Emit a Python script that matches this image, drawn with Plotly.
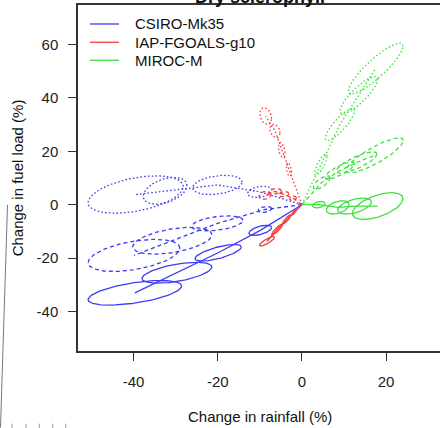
import numpy as np
import plotly.graph_objects as go

# Projected change in rainfall (x, %) vs change in fuel load (y, %)
# Each model has three projection sets (solid, dashed, dotted line styles);
# every set has four uncertainty ellipses: centre, x/y half-extent and x-y correlation.
MODELS = ["CSIRO-Mk35", "IAP-FGOALS-g10", "MIROC-M"]
COLORS = ["#3c3cf4", "#f23c3c", "#3ce23c"]
STYLES = ["solid", "dashed", "dotted"]

CSIRO_CX = [[-9.9, -19.9, -29.7, -39.7], [-8.8, -20.1, -30.8, -39.9], [-10.0, -20.1, -32.5, -39.5]]
CSIRO_CY = [[-9.6, -18.0, -25.5, -33.0], [-1.8, -7.0, -13.5, -19.0], [4.8, 7.4, 5.2, 3.8]]
CSIRO_SX = [[2.7, 5.5, 8.3, 11.1], [1.6, 6.1, 9.4, 10.9], [2.9, 5.9, 5.2, 11.3]]
CSIRO_SY = [[1.9, 3.1, 3.9, 4.6], [1.1, 2.8, 5.0, 6.0], [2.1, 3.6, 5.0, 7.0]]
CSIRO_R = [[0.55, 0.7, 0.55, 0.55], [0.3, 0.4, 0.45, 0.45], [0.3, 0.3, 0.4, 0.43]]

IAP_CX = [[-1.9, -3.6, -5.9, -8.3], [-2.1, -4.3, -6.4, -8.8], [-3.1, -4.8, -6.4, -8.6]]
IAP_CY = [[-2.9, -5.5, -9.3, -13.7], [2.4, 3.9, 5.0, 3.5], [13.2, 20.5, 27.6, 33.2]]
IAP_SX = [[0.6, 1.0, 1.3, 1.8], [0.8, 1.2, 1.5, 1.4], [0.6, 0.8, 1.2, 1.4]]
IAP_SY = [[1.0, 1.7, 2.0, 1.8], [0.8, 1.0, 1.0, 1.5], [2.6, 2.8, 2.5, 3.1]]
IAP_R = [[0.9, 0.9, 0.9, 0.85], [0.2, 0.2, 0.2, 0.2], [-0.4, -0.4, -0.3, -0.3]]

MIROC_CX = [[4.0, 8.5, 12.5, 18.0], [4.7, 9.0, 13.0, 17.3], [4.5, 9.0, 13.5, 17.5]]
MIROC_CY = [[0.0, -1.0, -0.5, -0.5], [8.3, 12.8, 15.8, 18.5], [15.0, 30.0, 41.0, 51.0]]
MIROC_SX = [[1.5, 2.7, 4.0, 6.0], [2.0, 3.5, 4.8, 6.8], [1.5, 3.5, 4.5, 6.5]]
MIROC_SY = [[1.2, 2.5, 3.0, 5.0], [2.5, 3.2, 4.0, 6.5], [4.0, 6.0, 7.0, 9.5]]
MIROC_R = [[0.3, 0.4, 0.5, 0.55], [0.7, 0.8, 0.8, 0.85], [0.8, 0.85, 0.85, 0.88]]

X_TICKS = [-40, -20, 0, 20]
X_TICK_TEXT = ["-40", "-20", "0", "20"]
Y_TICKS = [-40, -20, 0, 20, 40, 60]
Y_TICK_TEXT = ["-40", "-20", "0", "20", "40", "60"]
X_RANGE = [-53.2, 32.8]
Y_RANGE = [-54.8, 74.8]

DASHES = {"solid": "solid", "dashed": "4px,3px", "dotted": "1.6px,2.2px"}

FONT = "Liberation Sans, Arial, Helvetica, sans-serif"


def ellipse(cx, cy, sx, sy, r, n=120):
    t = np.linspace(0, 2 * np.pi, n)
    x = cx + sx * np.cos(t)
    y = cy + sy * (r * np.cos(t) + np.sqrt(1 - r * r) * np.sin(t))
    return list(x), list(y)


fig = go.Figure()

model_data = [
    (CSIRO_CX, CSIRO_CY, CSIRO_SX, CSIRO_SY, CSIRO_R),
    (IAP_CX, IAP_CY, IAP_SX, IAP_SY, IAP_R),
    (MIROC_CX, MIROC_CY, MIROC_SX, MIROC_SY, MIROC_R),
]

for name, color, (cxs, cys, sxs, sys_, rs) in zip(MODELS, COLORS, model_data):
    for k, style in enumerate(STYLES):
        cx, cy, sx, sy, rr = cxs[k], cys[k], sxs[k], sys_[k], rs[k]
        # path from the origin through the ellipse centres
        xs = [0.0] + cx
        ys = [0.0] + cy
        for i in range(len(cx)):
            ex, ey = ellipse(cx[i], cy[i], sx[i], sy[i], rr[i])
            xs += [None] + ex
            ys += [None] + ey
        fig.add_trace(go.Scatter(
            x=xs, y=ys, mode="lines", name=f"{name} ({style})",
            line=dict(color=color, width=1.3, dash=DASHES[style]),
            showlegend=False, hoverinfo="skip", connectgaps=False,
        ))

# plot area in pixels: left 78, right 440, top 5, bottom 351.3
L, R_, T, B = 78, 0, 5, 76.7
W, H = 440, 428
pw, ph = W - L - R_, H - T - B


def px(xp):
    return (xp - L) / pw


def py(yp):
    return (H - B - yp) / ph


annotations = [
    dict(text="<b>Dry sclerophyll</b>", x=px(260), y=py(-3), xref="paper", yref="paper",
         showarrow=False, xanchor="center", yanchor="middle",
         font=dict(family=FONT, size=18, color="#111")),
    dict(text="Change in rainfall (%)", x=px(260), y=py(416.5), xref="paper", yref="paper",
         showarrow=False, xanchor="center", yanchor="middle",
         font=dict(family=FONT, size=15, color="#111")),
    dict(text="Change in fuel load (%)", x=px(17.5), y=py(178), xref="paper", yref="paper",
         showarrow=False, xanchor="center", yanchor="middle", textangle=-90,
         font=dict(family=FONT, size=15, color="#111")),
]

shapes = []
legend_rows = [24, 42.3, 60.3]
for name, color, yrow in zip(MODELS, COLORS, legend_rows):
    shapes.append(dict(type="line", xref="paper", yref="paper",
                       x0=px(90), x1=px(119), y0=py(yrow), y1=py(yrow),
                       line=dict(color=color, width=1.3)))
    annotations.append(dict(text=name, x=px(133), y=py(yrow), xref="paper", yref="paper",
                            showarrow=False, xanchor="left", yanchor="middle",
                            font=dict(family=FONT, size=15, color="#111")))

# neighbouring panel edge and ticks at the lower left
shapes.append(dict(type="line", xref="paper", yref="paper",
                   x0=px(7.5), y0=py(205), x1=px(0.5), y1=py(428),
                   line=dict(color="#777", width=1)))
for xt in [12, 26, 39.3, 52.7, 65.7]:
    shapes.append(dict(type="line", xref="paper", yref="paper",
                       x0=px(xt), y0=py(424), x1=px(xt), y1=py(429),
                       line=dict(color="#999", width=1)))

fig.update_layout(
    width=W, height=H,
    margin=dict(l=L, r=R_, t=T, b=B, pad=0),
    paper_bgcolor="white", plot_bgcolor="white",
    showlegend=False,
    annotations=annotations,
    shapes=shapes,
    font=dict(family=FONT, size=15, color="#222"),
    xaxis=dict(range=X_RANGE, tickvals=X_TICKS, ticktext=X_TICK_TEXT, ticks="outside",
               ticklen=8, tickwidth=1.3, tickcolor="#333", showline=True, linecolor="#333",
               linewidth=1.5, mirror=True, showgrid=False, zeroline=False, ticklabelstandoff=8,
               tickfont=dict(family=FONT, size=15, color="#222")),
    yaxis=dict(range=Y_RANGE, tickvals=Y_TICKS, ticktext=Y_TICK_TEXT, ticks="outside",
               ticklen=8, tickwidth=1.3, tickcolor="#333", showline=True, linecolor="#333",
               linewidth=1.5, mirror=False, showgrid=False, zeroline=False, ticklabelstandoff=7,
               tickfont=dict(family=FONT, size=15, color="#222")),
)

fig.write_html("out.html")
